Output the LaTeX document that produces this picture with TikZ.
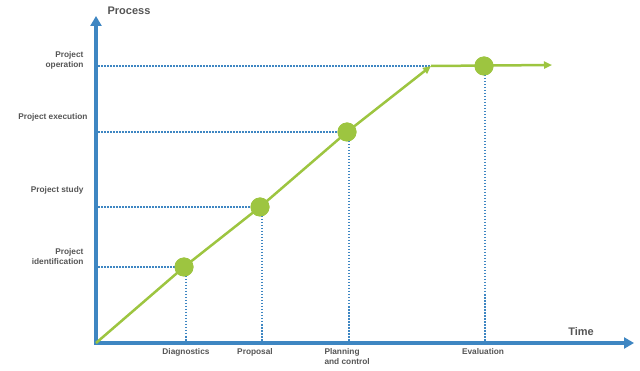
\documentclass[tikz,border=0pt]{standalone}
\usepackage{fontspec}
\setmainfont{Liberation Sans}
\usepackage{tikz}
\usetikzlibrary{arrows.meta}
\definecolor{axisblue}{RGB}{62,134,194}
\definecolor{leafgreen}{RGB}{157,197,64}
\definecolor{labelgray}{RGB}{85,85,85}

\begin{document}
\begin{tikzpicture}[x=1pt, y=-1pt,
    axisline/.style = {axisblue, line width=3.5pt, -{Triangle[length=10pt, width=11pt]}},
    guide/.style = {axisblue, line width=1.5pt, dash pattern=on 1.5pt off 1.5pt},
    trend/.style = {leafgreen, line width=2.5pt, -{Triangle[length=8pt, width=7pt]}},
    dot/.style = {circle, fill=leafgreen, inner sep=0pt, minimum size=19pt},
    lbl/.style = {text=labelgray, font=\bfseries\fontsize{8.3}{10}\selectfont},
    heading/.style = {text=labelgray, font=\bfseries\fontsize{11}{13}\selectfont}]
    \useasboundingbox (0,0) rectangle (640,371);

    % axes
    \coordinate (o) at (96,343);
    \coordinate (yax) at (98,343);
    \coordinate (ytip) at (96,16);
    \coordinate (xtip) at (634,343);
    \node[heading] (process) at (129,11) {Process};
    \node[heading] (time) at (581,332) {Time};

    % milestones
    \node[dot] (diag) at (184,267) {};
    \node[dot] (prop) at (260,207) {};
    \node[dot] (plan) at (347,132) {};
    \node[dot] (eval) at (484,66) {};
    \coordinate (bend) at (431,66);
    \coordinate (last) at (552,65);

    % guides to the axes
    \draw[guide] (bend -| yax) -- (bend);
    \draw[guide] (plan.center -| yax) -- (plan.center);
    \draw[guide] (prop.center -| yax) -- (prop.center);
    \draw[guide] (diag.center -| yax) -- (diag.center);
    \draw[guide] ([xshift=2pt]diag.center) -- ([xshift=2pt]diag.center |- o);
    \draw[guide] ([xshift=2pt]prop.center) -- ([xshift=2pt]prop.center |- o);
    \draw[guide] ([xshift=2pt]plan.center) -- ([xshift=2pt]plan.center |- o);
    \draw[guide] ([xshift=1pt]eval.center) -- ([xshift=1pt]eval.center |- o);

    \draw[axisline] (o) -- (ytip);
    \draw[axisline] ([xshift=-2pt]o) -- (xtip);

    % process line
    \draw[trend] (o) -- (diag.center) -- (prop.center) -- (plan.center) -- (bend);
    \draw[trend] (bend) -- (last);
    \node[dot] at (diag) {};
    \node[dot] at (prop) {};
    \node[dot] at (plan) {};
    \node[dot] at (eval) {};

    % labels
    \node[lbl, anchor=east, align=right] (op) at (87,60) {Project\\operation};
    \node[lbl, anchor=east, align=right] (ex) at (91,117) {Project execution};
    \node[lbl, anchor=east, align=right] (st) at (87,190) {Project study};
    \node[lbl, anchor=east, align=right] (id) at (87,257) {Project\\identification};
    \node[lbl, anchor=north] (dg) at (186,345) {Diagnostics};
    \node[lbl, anchor=north] (pr) at (255,345) {Proposal};
    \node[lbl, anchor=north west, align=left] (pc) at (321,345) {Planning\\and control};
    \node[lbl, anchor=north] (ev) at (483,345) {Evaluation};
\end{tikzpicture}
\end{document}
